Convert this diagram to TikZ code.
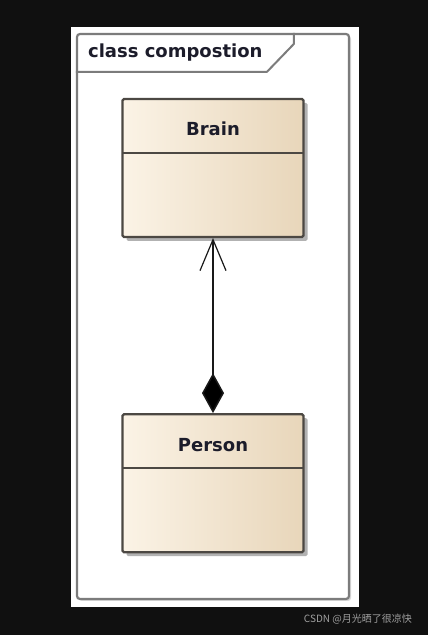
\documentclass[tikz,border=0pt]{standalone}
\usepackage{fontspec}
\setmainfont{DejaVu Sans}
\newfontfamily\cjkfont{Noto Sans CJK SC}
\usepackage{xcolor}
\usepackage{tikz}
\usetikzlibrary{arrows.meta, positioning, shadows, calc}

\definecolor{bgdark}{HTML}{101010}
\definecolor{framegray}{HTML}{7C7C7C}
\definecolor{boxline}{HTML}{4C4843}
\definecolor{classleft}{HTML}{FBF3E6}
\definecolor{classright}{HTML}{E8D6BA}
\definecolor{labeltext}{HTML}{1C1C2A}
\definecolor{creditgray}{HTML}{A0A0A0}

\begin{document}
\begin{tikzpicture}[x=1pt, y=1pt,
  framebox/.style={rectangle, draw=framegray, fill=white, line width=2.2pt, rounded corners=3pt, minimum width=272pt, minimum height=565pt, inner sep=0pt,
    drop shadow={shadow xshift=2pt, shadow yshift=-2pt, fill=black, opacity=0.15}},
  tabline/.style={draw=framegray, line width=2pt, line join=round},
  tabtitle/.style={font=\fontsize{18}{20}\selectfont\bfseries, text=labeltext, inner sep=0pt},
  classbox/.style={rectangle, draw=boxline, line width=2.2pt, rounded corners=1.5pt, left color=classleft, right color=classright,
    minimum width=181pt, minimum height=138pt, inner sep=0pt, font=\fontsize{18}{20}\selectfont\bfseries, text=labeltext,
    drop shadow={shadow xshift=4pt, shadow yshift=-4pt, fill=black, opacity=0.3},
    path picture={\draw[boxline, line width=2pt] ([yshift=-54pt]path picture bounding box.north west) -- ([yshift=-54pt]path picture bounding box.north east);}},
  composition/.style={draw=black!90, line width=1.5pt, {Diamond[length=40pt, width=22pt, fill=black]}-{Straight Barb[length=31pt, width=26pt, line width=1.2pt]}},
  watermark/.style={font=\cjkfont\fontsize{10}{12}\selectfont, text=creditgray, inner sep=0pt}
]
  \useasboundingbox (0,0) rectangle (428,635);
  \fill[bgdark] (0,0) rectangle (428,635);
  \fill[white] (71,28) rectangle (359,608);

  % diagram frame and its name tab
  \node[framebox] (frame) at (213,318.5) {};
  \node[tabtitle, anchor=west] (title) at ([xshift=12pt, yshift=-20pt]frame.north west) {class compostion};
  \draw[tabline] ([xshift=218pt]frame.north west) -- ++(0,-11) -- ++(-27,-28) -- ++(-191,0);

  % classes
  \node[classbox, anchor=north] (brain) at ([yshift=-65pt]frame.north) {\rule[-101pt]{0pt}{138pt}Brain};
  \node[classbox, below=175pt of brain] (person) {\rule[-101pt]{0pt}{138pt}Person};

  % composition: Person owns Brain
  \draw[composition] (person.north) -- (brain.south);

  \node[watermark, anchor=east] (credit) at (412,16) {CSDN @月光晒了很凉快};
\end{tikzpicture}
\end{document}
